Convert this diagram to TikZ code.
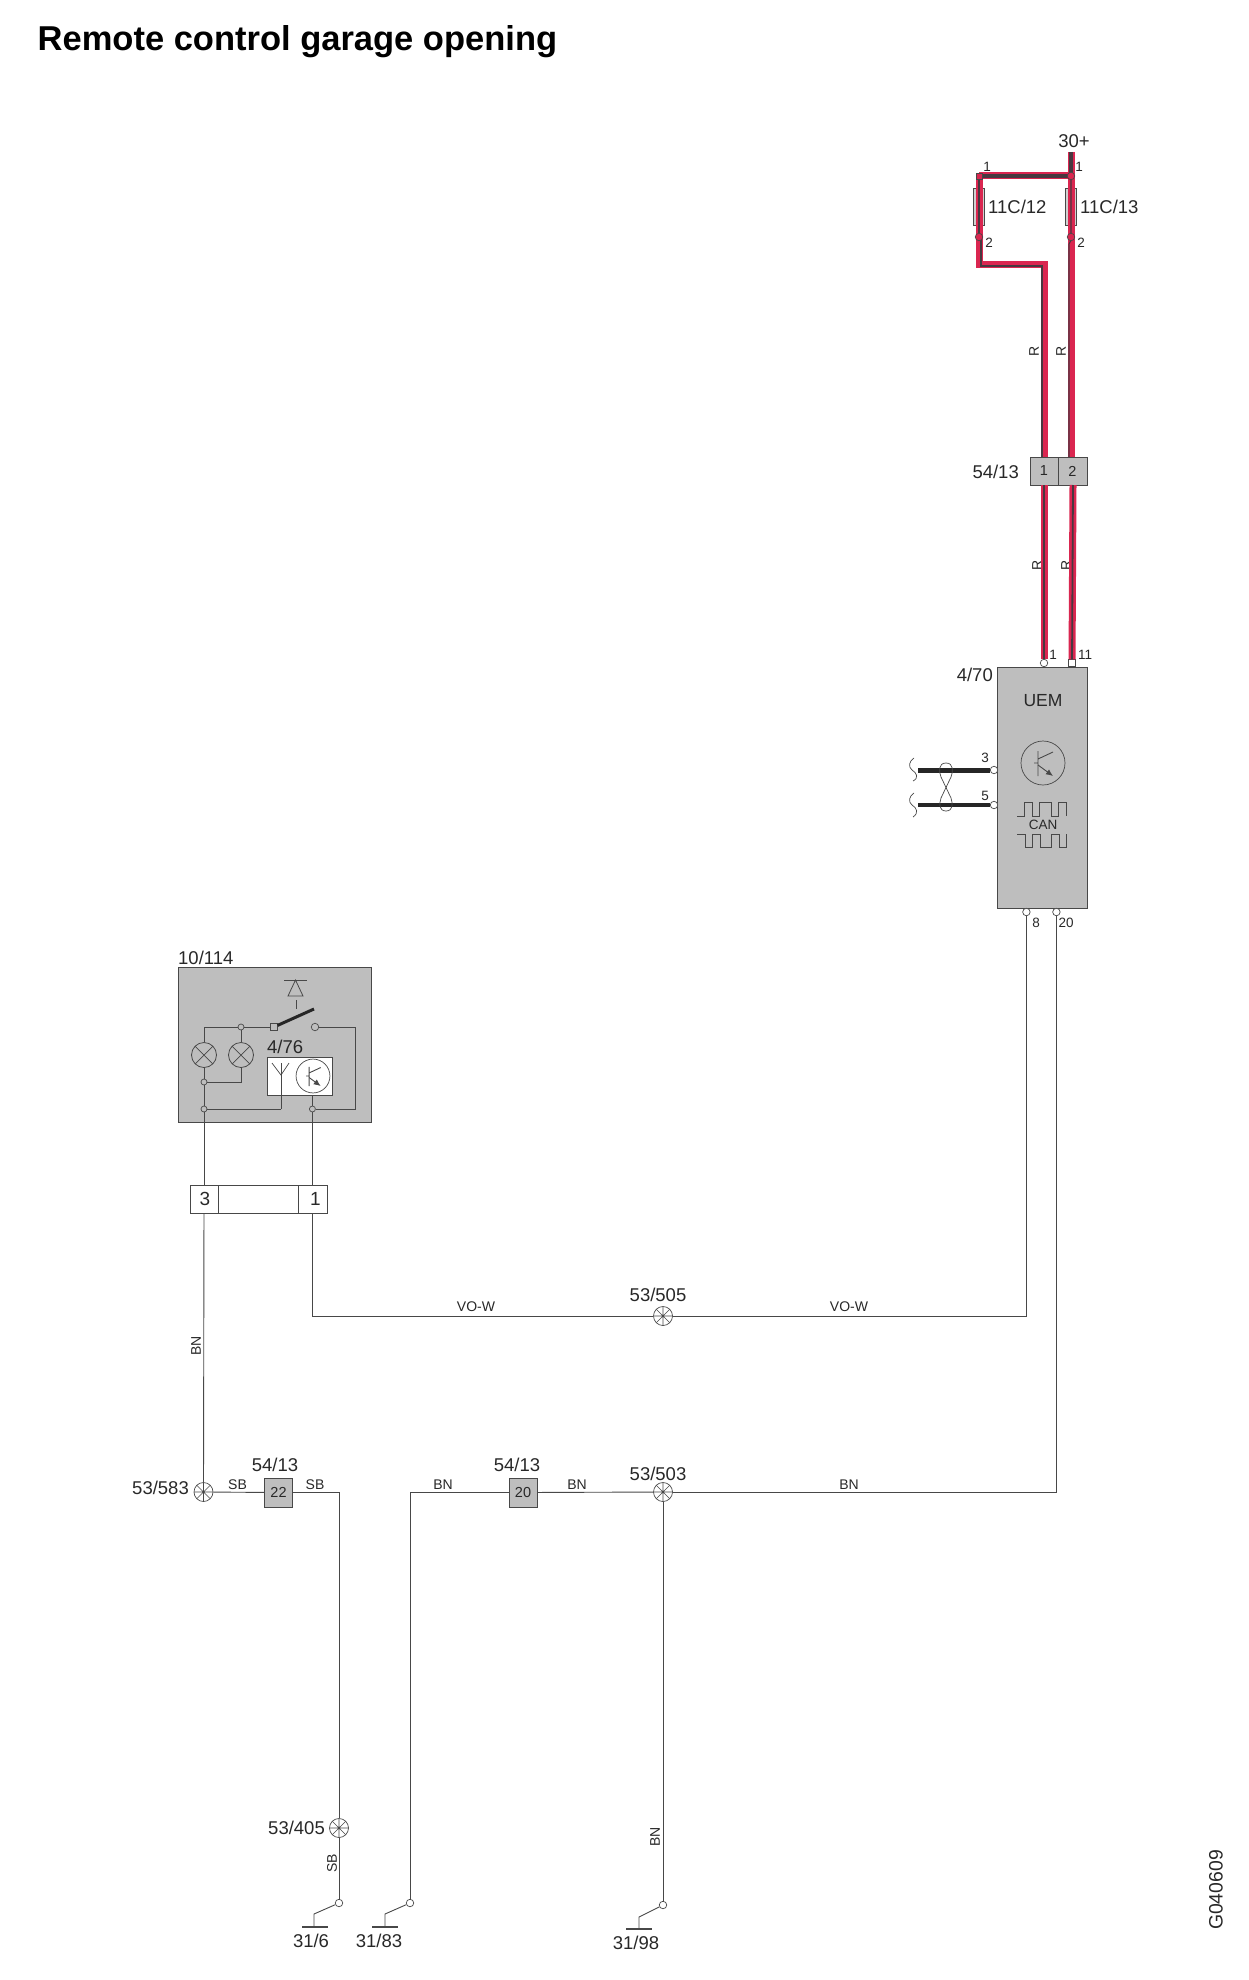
\documentclass[tikz,border=0pt]{standalone}
\usepackage{fontspec}
\setmainfont{Liberation Sans}
\usetikzlibrary{arrows.meta}
\definecolor{wirered}{RGB}{218,38,80}
\definecolor{wirecore}{RGB}{72,56,64}
\definecolor{boxgrey}{RGB}{190,190,190}
\definecolor{linegrey}{RGB}{72,72,72}
\definecolor{txt}{RGB}{40,40,40}
\tikzset{
  pics/xsistor/.style={code={
    \draw[linegrey,line width=.7pt] (0,0) circle (22);
    \draw[linegrey,line width=.9pt] (-9,0) -- (-5,0) (-5,-12) -- (-5,13) (-5,-4) -- (10,-11);
    \draw[linegrey,line width=.9pt,-{Latex[length=7pt,width=6pt]}] (-5,2) -- (10,13);
  }}
}
\begin{document}
\begin{tikzpicture}[x=1pt,y=-1pt,
  lbl/.style={font=\fontsize{18.5}{20}\selectfont,inner sep=0pt,text=txt},
  pinnum/.style={font=\fontsize{13.5}{15}\selectfont,inner sep=0pt,text=txt},
  wirelbl/.style={font=\fontsize{14}{15}\selectfont,inner sep=0pt,text=txt},
  thinwire/.style={draw=linegrey,line width=.9pt},
  redwire/.style={draw=wirered,line width=7pt},
  redcore/.style={draw=wirecore,line width=1.1pt},
  pinnode/.style={circle,draw=linegrey,fill=white,line width=.7pt,inner sep=0pt,minimum size=7.5pt},
  pinsq/.style={rectangle,draw=linegrey,fill=white,line width=.7pt,inner sep=0pt,minimum size=6.5pt},
  redpin/.style={pinnode,fill=wirered},
  dotnode/.style={pinnode,fill=boxgrey,minimum size=6pt},
  greybox/.style={rectangle,draw=linegrey,fill=boxgrey,line width=.9pt,inner sep=0pt,font=\fontsize{14.5}{16}\selectfont,text=txt},
  plugbox/.style={rectangle,draw=linegrey,fill=white,line width=.9pt,inner sep=0pt,minimum height=28pt,font=\fontsize{19}{20}\selectfont,text=txt},
  fusebox/.style={rectangle,draw=linegrey,fill=boxgrey!70,line width=.8pt,inner sep=0pt,minimum width=11pt,minimum height=37pt},
  splice/.style={circle,draw=linegrey,line width=.7pt,inner sep=0pt,minimum size=19pt,path picture={
    \draw[linegrey,line width=.6pt] (path picture bounding box.center) +(-10,0) -- +(10,0) +(0,-10) -- +(0,10) +(-7,-7) -- +(7,7) +(-7,7) -- +(7,-7);}},
  lamp/.style={circle,draw=linegrey,fill=boxgrey,line width=.8pt,inner sep=0pt,minimum size=25pt,path picture={
    \draw[linegrey,line width=.7pt] (path picture bounding box.center) +(-9,-9) -- +(9,9) +(-9,9) -- +(9,-9);}}]
  \useasboundingbox (0,0) rectangle (1248,1980);
  %title
  \node[inner sep=0pt,anchor=base west,font=\fontsize{34.5}{36}\bfseries\selectfont,text=black] (title) at (37.5,51) {Remote control garage opening};
  \node[inner sep=0pt,rotate=90,font=\fontsize{19.4}{21}\selectfont,text=txt] (drawno) at (1216,1890) {G040609};

  %fuses
  \coordinate (supply) at (1071,152);
  \node[lbl] (lblsupply) at (1074,141) {30+};
  \node[fusebox] (fusel) at (979,207) {};
  \node[fusebox] (fuser) at (1071,207) {};
  \node[lbl,anchor=west] (lblfusel) at (988,207) {11C/12};
  \node[lbl,anchor=west] (lblfuser) at (1080,207) {11C/13};
  \node[pinnum] (nfl1) at (987,167) {1};
  \node[pinnum] (nfr1) at (1079,167) {1};
  \node[pinnum] (nfl2) at (989,243) {2};
  \node[pinnum] (nfr2) at (1081,243) {2};

  %connector 54/13 upper
  \node[greybox,minimum width=28pt,minimum height=28pt] (c1) at (1044,471) {1};
  \node[greybox,minimum width=29pt,minimum height=28pt] (c2) at (1072.5,471) {2};
  \node[lbl,anchor=east] (lblc) at (1019,472) {54/13};
  \node[wirelbl,rotate=90] (rl1) at (1034,351) {R};
  \node[wirelbl,rotate=90] (rr1) at (1061,351) {R};
  \node[wirelbl,rotate=90] (rl2) at (1037,565) {R};
  \node[wirelbl,rotate=90] (rr2) at (1066,565) {R};

  %UEM
  \node[greybox,minimum width=90pt,minimum height=241pt] (uem) at (1042.5,787.5) {};
  \node[lbl,anchor=east] (lbluem) at (993,675) {4/70};
  \node[inner sep=0pt,font=\fontsize{17.5}{19}\selectfont,text=txt] (uemname) at (1043,701) {UEM};
  \pic at (1043,763) {xsistor};
  \node[inner sep=0pt,font=\fontsize{13.5}{15}\selectfont,text=txt] (can) at (1043,825) {CAN};
  \draw[linegrey,line width=.9pt] (1017,816) -- (1024,816) -- (1024,802) -- (1032.5,802) -- (1032.5,816) -- (1039,816) -- (1039,802) -- (1051,802) -- (1051,816) -- (1058,816) -- (1058,802) -- (1066,802) -- (1066,816);
  \draw[linegrey,line width=.9pt] (1017,834) -- (1025,834) -- (1025,847) -- (1032,847) -- (1032,834) -- (1040,834) -- (1040,847) -- (1051,847) -- (1051,834) -- (1059,834) -- (1059,847) -- (1066,847) -- (1066,834);
  \node[pinnode] (u1) at (1044,663) {};
  \node[pinsq] (u11) at (1072,663) {};
  \node[pinnode] (u3) at (994,770) {};
  \node[pinnode] (u5) at (994,805) {};
  \node[pinnode] (u8) at (1026.4,912) {};
  \node[pinnode] (u20) at (1056.4,912) {};
  \node[pinnum] (nu1) at (1053,655) {1};
  \node[pinnum] (nu11) at (1085,655) {11};
  \node[pinnum] (nu3) at (985,758) {3};
  \node[pinnum] (nu5) at (985,796) {5};
  \node[pinnum] (nu8) at (1036,923) {8};
  \node[pinnum] (nu20) at (1066,923) {20};

  %can wires
  \coordinate (canhi) at (918,770);
  \coordinate (canlo) at (918,805);
  \draw[black!85,line width=5pt] (canhi) -- (u3);
  \draw[black!85,line width=3.2pt] (canlo) -- (u5);
  \draw[linegrey,line width=.7pt] (946,763) .. controls (938,763) and (939,772) .. (941,777) -- (951,798) .. controls (953,804) and (953,811) .. (946,811);
  \draw[linegrey,line width=.7pt] (946,763) .. controls (954,763) and (953,772) .. (951,777) -- (941,798) .. controls (939,804) and (939,811) .. (946,811);
  \draw[linegrey,line width=.7pt] (914,758) .. controls (909,761) and (908,767) .. (912,770) .. controls (917,773) and (919,778) .. (913,781);
  \draw[linegrey,line width=.7pt] (914,793) .. controls (909,796) and (908,802) .. (912,805) .. controls (917,808) and (919,813) .. (913,817);

  %red wires
  \coordinate (bendl) at (979,264);
  \coordinate (bendr) at (1044,264);
  \draw[redwire] (1071,152) -- (1071,176) -- (1071,457);
  \draw[redwire] (979,176) -- (1071,176);
  \draw[redwire] (979,176) -- (bendl) -- (bendr) -- (1044,457);
  \draw[redwire] (1044,485) -- (u1);
  \draw[redwire] (1073,485) -- (u11);
  \draw[redcore,line width=4pt] (supply) -- (1071,176) -- (979,176);
  \draw[redcore] (979,176) -- (979,240);
  \draw[redcore] (1071,176) -- (1071,240) -- (1069,244) -- (1069,457);
  \draw[redcore] (981,240) -- (981,266) -- (1042,266) -- (1042,457);
  \draw[redcore] (1044,485) -- (u1);
  \draw[redcore,line width=1.8pt] (1073,485) -- (u11);
  \node[redpin,rectangle,minimum size=6pt] (fl1) at (979,176) {};
  \node[redpin] (fr1) at (1071,176) {};
  \node[redpin] (fl2) at (979,237) {};
  \node[redpin] (fr2) at (1071,237) {};

  %module 10/114
  \node[greybox,minimum width=193pt,minimum height=155pt] (mod) at (274.5,1044.5) {};
  \node[lbl,anchor=west] (lblmod) at (178,958) {10/114};
  \draw[linegrey,line width=.9pt] (284,980) -- (307,980);
  \draw[linegrey,line width=.8pt] (295.5,980) -- (288,996) -- (303,996) -- cycle;
  \draw[linegrey,line width=.9pt] (296,1000) -- (296,1009);
  \node[pinsq,fill=boxgrey] (swl) at (274,1027) {};
  \node[pinnode,fill=boxgrey] (swr) at (315,1027) {};
  \coordinate (swend) at (314,1009);
  \draw[black!85,line width=3pt] (swl) -- (swend);
  \node[dotnode] (top) at (241,1027) {};
  \node[lamp] (lampl) at (204,1055) {};
  \node[lamp] (lampr) at (241,1055) {};
  \node[dotnode] (midl) at (204,1082) {};
  \node[dotnode] (lowl) at (204,1109) {};
  \node[dotnode] (lowr) at (312.4,1109) {};
  \node[rectangle,draw=linegrey,fill=white,line width=.9pt,inner sep=0pt,minimum width=65pt,minimum height=38pt] (rx) at (299.5,1076) {};
  \node[lbl,anchor=west] (lblrx) at (267,1047) {4/76};
  \pic[scale=.77] at (313,1076) {xsistor};
  \coordinate (antfoot) at (281,1109);
  \draw[thinwire,line width=.7pt] (272,1063) -- (281,1075) -- (289,1063);
  \draw[thinwire] (281,1063) -- (antfoot);
  \draw[thinwire] (lowl) -- (antfoot);
  \draw[thinwire] (swl) -- (top);
  \draw[thinwire] (top) -- (204,1027) -- (lampl);
  \draw[thinwire] (top) -- (lampr);
  \draw[thinwire] (lampr) |- (midl);
  \draw[thinwire] (lampl) -- (midl);
  \draw[thinwire] (midl) -- (lowl);
  \draw[thinwire] (swr) -| (355,1109) -- (lowr);
  \draw[thinwire] (rx.south -| lowr) -- (lowr);

  %connector below module
  \node[plugbox,minimum width=28pt] (p3) at (204,1199) {\kern2pt 3};
  \node[plugbox,minimum width=80pt] (pm) at (258,1199) {};
  \node[plugbox,minimum width=29pt] (p1) at (312.5,1199) {\kern6pt 1};
  \draw[thinwire] (lowl) -- (p3);
  \draw[thinwire] (lowr) -- (lowr |- p1.north);

  %splices
  \node[splice] (s505) at (663,1316) {};
  \node[lbl] (lbl505) at (658,1295) {53/505};
  \node[splice] (s583) at (203.5,1492) {};
  \node[lbl,anchor=east] (lbl583) at (189,1488) {53/583};
  \node[splice] (s503) at (663,1492) {};
  \node[lbl] (lbl503) at (658,1474) {53/503};
  \node[splice] (s405) at (339,1828) {};
  \node[lbl,anchor=east] (lbl405) at (325,1828) {53/405};

  %boxes in lower row
  \node[greybox,minimum width=28pt,minimum height=29pt] (b22) at (278.5,1492.5) {22};
  \node[lbl] (lbl22) at (275,1465) {54/13};
  \node[greybox,minimum width=28pt,minimum height=29pt] (b20) at (523,1492.5) {20};
  \node[lbl] (lbl20) at (517,1465) {54/13};

  %grounds
  \node[pinnode] (g6) at (339,1903) {};
  \node[pinnode] (g83) at (410,1903) {};
  \node[pinnode] (g98) at (663,1905) {};
  \coordinate (g6k) at (314,1914);
  \coordinate (g83k) at (385,1914);
  \coordinate (g98k) at (639,1917);
  \coordinate (g6b) at (314,1927);
  \coordinate (g83b) at (385,1927);
  \coordinate (g98b) at (639,1929);
  \draw[thinwire] (g6) -- (g6k) -- (g6b);
  \draw[thinwire] (g83) -- (g83k) -- (g83b);
  \draw[thinwire] (g98) -- (g98k) -- (g98b);
  \draw[thinwire,line width=1.3pt] (302,1927) -- (328,1927);
  \draw[thinwire,line width=1.3pt] (372,1927) -- (398,1927);
  \draw[thinwire,line width=1.3pt] (626,1929) -- (652,1929);
  \node[lbl] (lbl6) at (311,1941) {31/6};
  \node[lbl] (lbl83) at (379,1941) {31/83};
  \node[lbl] (lbl98) at (636,1943) {31/98};

  %thin wires
  \draw[thinwire] (lowr |- p1.south) |- (s505);
  \draw[thinwire] (s505) -| (u8);
  \draw[thinwire] (p3) -- (s583);
  \draw[thinwire] (s583) -- (b22);
  \draw[thinwire] (b22) -| (s405);
  \draw[thinwire] (s405) -- (g6);
  \draw[thinwire] (b20) -| (g83);
  \draw[thinwire] (b20) -- (s503);
  \draw[thinwire] (s503) -| (u20);
  \draw[thinwire] (s503) -- (g98);

  %wire labels
  \node[wirelbl] (vo1) at (476,1307) {VO-W};
  \node[wirelbl] (vo2) at (849,1307) {VO-W};
  \node[wirelbl,rotate=90] (bn1) at (196,1346) {BN};
  \node[wirelbl] (sb1) at (237.5,1485) {SB};
  \node[wirelbl] (sb2) at (315,1485) {SB};
  \node[wirelbl] (bn2) at (443,1485) {BN};
  \node[wirelbl] (bn3) at (577,1485) {BN};
  \node[wirelbl] (bn4) at (849,1485) {BN};
  \node[wirelbl,rotate=90] (sb3) at (332,1863) {SB};
  \node[wirelbl,rotate=90] (bn5) at (655,1837) {BN};
\end{tikzpicture}
\end{document}
